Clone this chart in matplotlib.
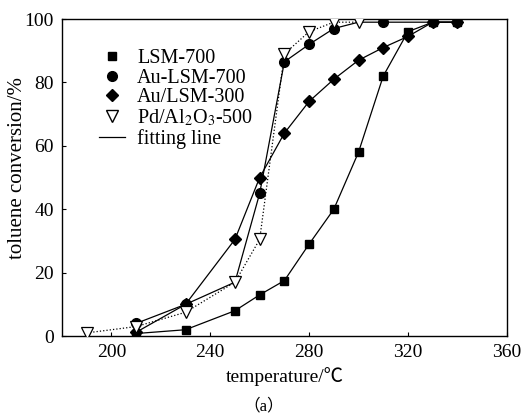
import matplotlib
matplotlib.use("Agg")
import matplotlib.pyplot as plt
from matplotlib.lines import Line2D

plt.rcParams['font.family'] = ['Liberation Serif', 'Noto Sans CJK SC', 'DejaVu Serif']
plt.rcParams['mathtext.fontset'] = 'stix'

# Data
lsm_t = [210, 230, 250, 260, 270, 280, 290, 300, 310, 320, 330, 340]
lsm_v = [0.8, 2, 8, 13, 17.5, 29, 40, 58, 82, 96, 99, 99]

aulsm_t = [210, 230, 250, 260, 270, 280, 290, 300, 310, 330, 340]
aulsm_v = [4, 10, 17, 45, 86.5, 92, 97, 99, 99, 99, 99]

au300_t = [210, 230, 250, 260, 270, 280, 290, 300, 310, 320, 330, 340]
au300_v = [1.2, 10, 30.5, 50, 64, 74, 81, 87, 91, 94.5, 99, 99]

pd_t = [190, 210, 230, 250, 260, 270, 280, 290, 300]
pd_v = [1, 3, 7.5, 17, 30.5, 89, 96, 99, 99]

xticks = [200, 240, 280, 320, 360]
yticks = [0, 20, 40, 60, 80, 100]

fig = plt.figure(figsize=(5.23, 4.18), dpi=100)
ax = fig.add_axes([0.1185, 0.196, 0.8505, 0.7585])

lw = 0.9
fs = 14
ax.plot(lsm_t, lsm_v, '-', color='black', lw=lw, marker='s', ms=6, mfc='black', mec='black', zorder=3)
# circle markers at 250 and 300 are hidden under the triangles in the original
ax.plot(aulsm_t, aulsm_v, '-', color='black', lw=lw, marker='o', ms=7, mfc='black', mec='black',
        markevery=[0, 1, 3, 4, 5, 6, 8, 9, 10], zorder=3)
ax.plot(au300_t, au300_v, '-', color='black', lw=lw, marker='D', ms=6.5, mfc='black', mec='black', zorder=3)
ax.plot(pd_t, pd_v, ':', color='black', lw=lw, marker='v', ms=8, mfc='white', mec='black', mew=0.9, zorder=4)

ax.set_xlim(180, 360)
ax.set_ylim(0, 100)
ax.set_xticks(xticks)
ax.set_yticks(yticks)
ax.tick_params(direction='in', length=3, width=0.8, labelsize=fs, top=False, right=False, pad=6)
for s in ax.spines.values():
    s.set_linewidth(1.0)

ax.set_xlabel('temperature/℃', fontsize=fs, labelpad=4)
ax.set_ylabel('toluene conversion/%', fontsize=15)
ax.yaxis.set_label_coords(-0.079, 0.53)

handles = [
    Line2D([], [], ls='none', marker='s', ms=6, color='black'),
    Line2D([], [], ls='none', marker='o', ms=7, color='black'),
    Line2D([], [], ls='none', marker='D', ms=6.5, color='black'),
    Line2D([], [], ls='none', marker='v', ms=8, mfc='white', mec='black'),
    Line2D([], [], ls='-', lw=lw, color='black'),
]
labels = ['LSM-700', 'Au-LSM-700', 'Au/LSM-300', r'Pd/Al$_2$O$_3$-500', 'fitting line']
ax.legend(handles, labels, loc='upper left', bbox_to_anchor=(0.065, 0.93), frameon=False,
          fontsize=14.5, handlelength=1.3, handletextpad=0.6, labelspacing=0.02, borderaxespad=0)

fig.text(0.505, 0.028, '（a）', ha='center', va='center', fontsize=12)

fig.savefig('out.png', dpi=100)
